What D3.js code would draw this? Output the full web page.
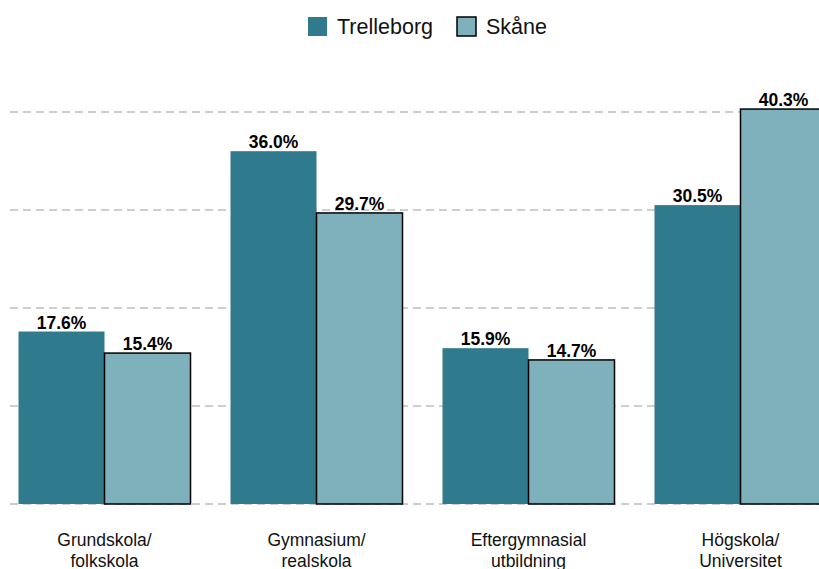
<!DOCTYPE html>
<html>
<head>
<meta charset="utf-8">
<script src="https://cdn.jsdelivr.net/npm/d3@7"></script>
<style>
	body { margin: 0; background: #fff; }
	text { font-family: "Liberation Sans", Arial, sans-serif; }
</style>
</head>
<body>
<script>
const w = 819;
const h = 569;

const categories = ['Grundskola/\nfolkskola', 'Gymnasium/\nrealskola', 'Eftergymnasial\nutbildning', 'Högskola/\nUniversitet'];
const series = ['Trelleborg', 'Skåne'];
const trelleborg = [17.6, 36.0, 15.9, 30.5];
const skane = [15.4, 29.7, 14.7, 40.3];
const gridTicks = [0, 10, 20, 30, 40];

const colors = { 'Trelleborg': '#2f7a8c', 'Skåne': '#7eb1bb' };
const strokes = { 'Trelleborg': 'none', 'Skåne': '#000' };

const svg = d3.select('body').append('svg')
	.attr('width', w)
	.attr('height', h);

const x = d3.scaleBand()
	.domain(categories)
	.range([-1.5, 846.5])
	.paddingInner(40 / 212)
	.paddingOuter(20 / 212);

const xs = d3.scaleBand()
	.domain(series)
	.range([0, x.bandwidth()]);

const y = d3.scaleLinear()
	.domain([0, 40])
	.range([504, 112]);

// dashed gridlines
svg.append('g')
	.selectAll('line')
	.data(gridTicks)
	.enter()
	.append('line')
	.attr('x1', 10)
	.attr('x2', w)
	.attr('y1', d => y(d))
	.attr('y2', d => y(d))
	.attr('stroke', '#bdbdbd')
	.attr('stroke-width', 1.5)
	.attr('stroke-dasharray', '8,5');

const rows = categories.map((c, i) => ({
	cat: c,
	vals: [
		{ s: 'Trelleborg', v: trelleborg[i] },
		{ s: 'Skåne', v: skane[i] }
	]
}));

const groups = svg.append('g')
	.selectAll('g')
	.data(rows)
	.enter()
	.append('g')
	.attr('transform', d => `translate(${x(d.cat)},0)`);

groups.selectAll('rect')
	.data(d => d.vals)
	.enter()
	.append('rect')
	.attr('x', d => xs(d.s))
	.attr('y', d => y(d.v))
	.attr('width', xs.bandwidth())
	.attr('height', d => y(0) - y(d.v))
	.attr('fill', d => colors[d.s])
	.attr('stroke', d => strokes[d.s])
	.attr('stroke-width', 1.5);

groups.selectAll('text.val')
	.data(d => d.vals)
	.enter()
	.append('text')
	.attr('class', 'val')
	.attr('x', d => xs(d.s) + xs.bandwidth() / 2)
	.attr('y', d => y(d.v) - 3)
	.attr('text-anchor', 'middle')
	.style('font-size', '17.5px')
	.style('font-weight', 'bold')
	.text(d => d.v.toFixed(1) + '%');

// category labels, two lines each
const labels = svg.append('g')
	.selectAll('text')
	.data(categories)
	.enter()
	.append('text')
	.attr('text-anchor', 'middle')
	.style('font-size', '17.5px')
	.attr('fill', '#111');

labels.selectAll('tspan')
	.data(d => d.split('\n').map(t => ({ t: t, c: d })))
	.enter()
	.append('tspan')
	.attr('x', d => x(d.c) + x.bandwidth() / 2)
	.attr('y', (d, i) => 546 + i * 21)
	.text(d => d.t);

// legend
const legend = svg.append('g');
const legendX = [308, 457];
series.forEach((s, i) => {
	legend.append('rect')
		.attr('x', legendX[i])
		.attr('y', 17)
		.attr('width', 19)
		.attr('height', 19)
		.attr('fill', colors[s])
		.attr('stroke', strokes[s])
		.attr('stroke-width', 1.5);
	legend.append('text')
		.attr('x', legendX[i] + 29)
		.attr('y', 34)
		.style('font-size', '21.5px')
		.attr('fill', '#111')
		.text(s);
});
</script>
</body>
</html>
